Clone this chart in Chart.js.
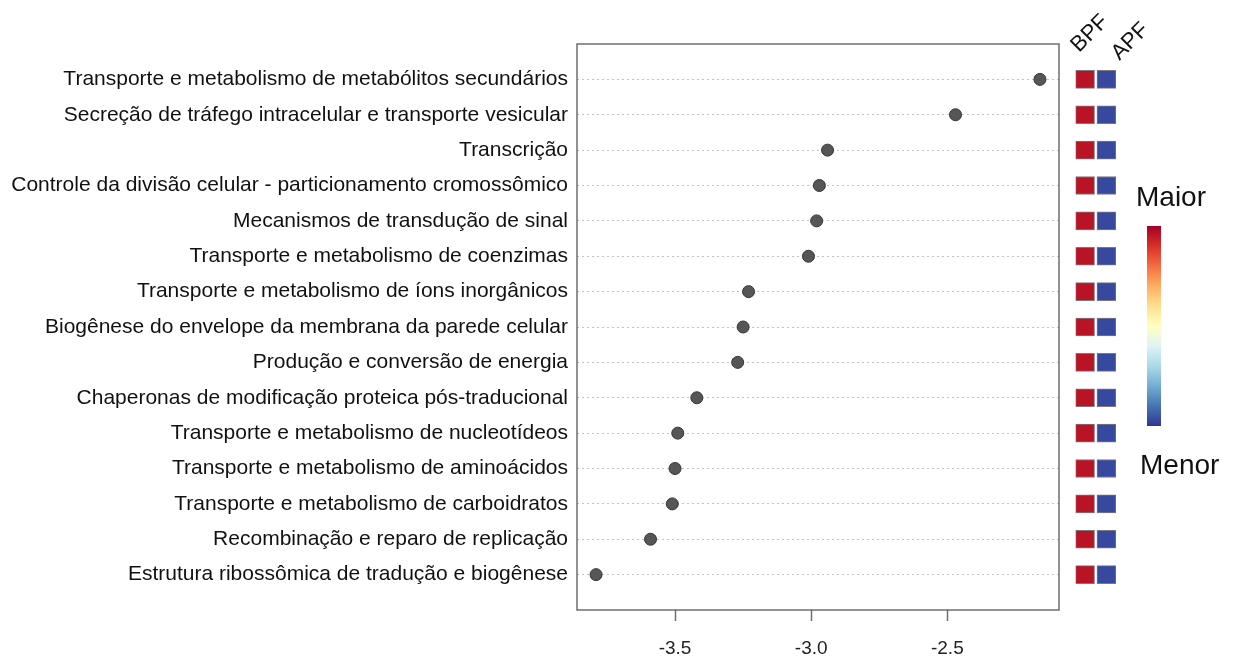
<!DOCTYPE html>
<html>
<head>
<meta charset="utf-8">
<script src="https://cdn.jsdelivr.net/npm/chart.js@4"></script>
<style>
  body { margin: 0; background: #fff; }
  #wrap { position: relative; width: 1233px; height: 656px; font-family: "Liberation Sans", Arial, sans-serif; }
  #dotChart { position: absolute; left: 0; top: 0; }
  #heatChart { position: absolute; left: 1040px; top: 0; }
  .legendText { position: absolute; font-size: 28px; color: #111; line-height: 1; }
  #bar { position: absolute; left: 1147px; top: 226px; width: 14px; height: 200px;
    background: linear-gradient(to bottom, #a50026, #d73027, #f46d43, #fdae61, #fee090, #ffffbf, #e0f3f8, #abd9e9, #74add1, #4575b4, #313695); }
</style>
</head>
<body>
<div id="wrap">
  <canvas id="dotChart" width="1233" height="656"></canvas>
  <canvas id="heatChart" width="140" height="656"></canvas>
  <div class="legendText" style="left:1136px; top:183px;">Maior</div>
  <div id="bar"></div>
  <div class="legendText" style="left:1140px; top:451px;">Menor</div>
</div>
<script>
const categories = [
  "Transporte e metabolismo de metabólitos secundários",
  "Secreção de tráfego intracelular e transporte vesicular",
  "Transcrição",
  "Controle da divisão celular - particionamento cromossômico",
  "Mecanismos de transdução de sinal",
  "Transporte e metabolismo de coenzimas",
  "Transporte e metabolismo de íons inorgânicos",
  "Biogênese do envelope da membrana da parede celular",
  "Produção e conversão de energia",
  "Chaperonas de modificação proteica pós-traducional",
  "Transporte e metabolismo de nucleotídeos",
  "Transporte e metabolismo de aminoácidos",
  "Transporte e metabolismo de carboidratos",
  "Recombinação e reparo de replicação",
  "Estrutura ribossômica de tradução e biogênese",
];
const scores = [-2.16, -2.47, -2.94, -2.97, -2.98, -3.01, -3.23, -3.25, -3.27, -3.42, -3.49, -3.50, -3.51, -3.59, -3.79];
const xTicks = [-3.5, -3.0, -2.5];
const heatColumns = ["BPF", "APF"];
const bpfLevel = [0.96, 0.96, 0.96, 0.96, 0.96, 0.96, 0.96, 0.96, 0.96, 0.96, 0.96, 0.96, 0.96, 0.96, 0.96];
const apfLevel = [0.03, 0.03, 0.03, 0.03, 0.03, 0.03, 0.03, 0.03, 0.03, 0.03, 0.03, 0.03, 0.03, 0.03, 0.03];

const palette = ["#313695", "#4575b4", "#74add1", "#abd9e9", "#e0f3f8", "#ffffbf", "#fee090", "#fdae61", "#f46d43", "#d73027", "#a50026"];

function levelColor(v) {
  const pos = v * (palette.length - 1);
  const i = Math.min(Math.floor(pos), palette.length - 2);
  const t = pos - i;
  const a = palette[i], b = palette[i + 1];
  const c = [1, 3, 5].map((k) => {
    const p = parseInt(a.substr(k, 2), 16), q = parseInt(b.substr(k, 2), 16);
    return Math.round(p + (q - p) * t);
  });
  return "rgb(" + c.join(",") + ")";
}

const boxPlugin = {
  id: "box",
  afterDraw(chart) {
    const { ctx, chartArea } = chart;
    ctx.save();
    ctx.strokeStyle = "#6e6e6e";
    ctx.lineWidth = 1.5;
    ctx.strokeRect(chartArea.left, chartArea.top, chartArea.right - chartArea.left, chartArea.bottom - chartArea.top);
    ctx.restore();
  },
};

new Chart(document.getElementById("dotChart"), {
  type: "scatter",
  data: {
    datasets: [
      {
        data: scores.map((v, i) => ({ x: v, y: i + 1 })),
        backgroundColor: "#565656",
        borderColor: "#333",
        borderWidth: 1,
        pointRadius: 6,
      },
    ],
  },
  options: {
    responsive: false,
    animation: false,
    layout: { padding: { top: 44, right: 174, left: 0, bottom: 0 } },
    plugins: { legend: { display: false }, tooltip: { enabled: false } },
    scales: {
      x: {
        type: "linear",
        min: -3.86,
        max: -2.09,
        afterBuildTicks: (scale) => { scale.ticks = xTicks.map((v) => ({ value: v })); },
        afterFit: (scale) => { scale.height = 46; },
        grid: { drawOnChartArea: false, tickLength: 11, tickColor: "#6e6e6e", tickWidth: 1.5 },
        border: { display: false },
        ticks: {
          padding: 16,
          color: "#222",
          font: { family: "Liberation Sans", size: 19 },
          callback: (v) => Number(v).toFixed(1),
        },
      },
      y: {
        type: "linear",
        min: 0,
        max: 16,
        reverse: true,
        afterBuildTicks: (scale) => { scale.ticks = categories.map((c, i) => ({ value: i + 1 })); },
        afterFit: (scale) => { scale.width = 577; },
        grid: { drawTicks: false, color: "#c4c4c4", lineWidth: 1 },
        border: { display: false, dash: [2, 3] },
        ticks: {
          padding: 9,
          color: "#111",
          font: { family: "Liberation Sans", size: 21 },
          callback: (v) => categories[v - 1],
        },
      },
    },
  },
  plugins: [boxPlugin],
});

const columnLabelPlugin = {
  id: "columnLabels",
  afterDraw(chart) {
    const { ctx } = chart;
    const xs = chart.scales.x;
    const spots = [
      { x: xs.getPixelForValue(0.47) - 6, y: 53 },
      { x: xs.getPixelForValue(1.53) + 13, y: 61 },
    ];
    ctx.save();
    ctx.fillStyle = "#111";
    ctx.font = "22px 'Liberation Sans'";
    ctx.textAlign = "left";
    ctx.textBaseline = "alphabetic";
    heatColumns.forEach((name, i) => {
      ctx.save();
      ctx.translate(spots[i].x, spots[i].y);
      ctx.rotate(-Math.PI / 4);
      ctx.fillText(name, 0, 0);
      ctx.restore();
    });
    ctx.restore();
  },
};

new Chart(document.getElementById("heatChart"), {
  type: "bar",
  data: {
    datasets: [
      {
        label: "BPF",
        data: bpfLevel.map((v, i) => ({ x: [0, 0.94], y: i + 1 })),
        backgroundColor: bpfLevel.map(levelColor),
      },
      {
        label: "APF",
        data: apfLevel.map((v, i) => ({ x: [1.06, 2], y: i + 1 })),
        backgroundColor: apfLevel.map(levelColor),
      },
    ],
  },
  options: {
    responsive: false,
    animation: false,
    indexAxis: "y",
    layout: { padding: { top: 44, bottom: 46, left: 35.5, right: 64 } },
    datasets: { bar: { barThickness: 18, grouped: false, borderWidth: 1, borderColor: "rgba(40,30,40,0.6)", borderSkipped: false } },
    plugins: { legend: { display: false }, tooltip: { enabled: false } },
    scales: {
      x: { type: "linear", min: 0, max: 2, offset: false, display: false },
      y: { type: "linear", min: 0, max: 16, reverse: true, offset: false, display: false },
    },
  },
  plugins: [columnLabelPlugin],
});
</script>
</body>
</html>
